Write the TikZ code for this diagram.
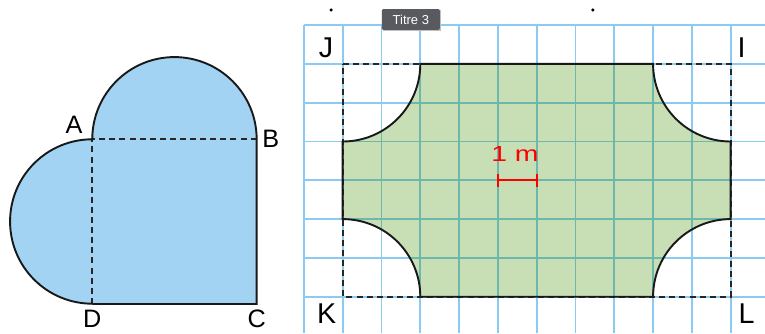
\documentclass[tikz,border=0pt]{standalone}
\usepackage{fontspec}
\setmainfont{Liberation Sans}
\usepackage{xcolor}
\definecolor{heartblue}{RGB}{162,211,242}
\definecolor{gridblue}{RGB}{138,203,243}
\definecolor{lawngreen}{RGB}{200,222,180}
\definecolor{gridteal}{RGB}{108,184,170}
\definecolor{tipgray}{RGB}{88,90,95}
\usetikzlibrary{calc}

\tikzset{
  outline/.style={black!90, line width=1.4pt},
  hidden/.style={black!85, line width=1.3pt, dash pattern=on 4.4pt off 3pt},
  ptlabel/.style={font=\fontsize{18.5}{18.5}\selectfont, inner sep=1pt},
  cornerlabel/.style={font=\fontsize{21}{21}\selectfont}
}

\begin{document}
\begin{tikzpicture}
  \useasboundingbox (-8.832,-0.936) rectangle (10.884,7.647);

  % square ABCD with its two half discs
  \coordinate (A) at (-6.454,4.057);
  \coordinate (B) at (-2.217,4.057);
  \coordinate (C) at (-2.217,-0.188);
  \coordinate (D) at (-6.454,-0.188);
  \fill[heartblue] (D) -- (C) -- (B) arc[start angle=0, end angle=180, radius=2.1185]
    arc[start angle=90, end angle=270, radius=2.1185] -- cycle;
  \draw[hidden] (B) -- (A) -- (D);
  \draw[outline] (D) -- (C) -- (B) arc[start angle=0, end angle=180, radius=2.1185]
    arc[start angle=90, end angle=270, radius=2.1185];

  \node[ptlabel] (labA) at (-6.925,4.425) {A};
  \node[ptlabel] (labB) at (-1.85,4.057) {B};
  \node[ptlabel] (labC) at (-2.217,-0.58) {C};
  \node[ptlabel] (labD) at (-6.454,-0.58) {D};

  % squared paper
  \draw[gridblue, line width=1.25pt] (-1,-0.936) grid (10.884,7);

  % the lawn
  \coordinate (K) at (0,0);
  \coordinate (L) at (10,0);
  \coordinate (I) at (10,6);
  \coordinate (J) at (0,6);
  \fill[lawngreen] (2,6) -- (8,6) arc[start angle=180, end angle=270, radius=2]
    -- (10,2) arc[start angle=90, end angle=180, radius=2]
    -- (2,0) arc[start angle=0, end angle=90, radius=2]
    -- (0,4) arc[start angle=270, end angle=360, radius=2] -- cycle;
  \begin{scope}
    \clip (2,6) -- (8,6) arc[start angle=180, end angle=270, radius=2]
      -- (10,2) arc[start angle=90, end angle=180, radius=2]
      -- (2,0) arc[start angle=0, end angle=90, radius=2]
      -- (0,4) arc[start angle=270, end angle=360, radius=2] -- cycle;
    \draw[gridteal, line width=1.25pt] (-1,-1) grid (11,7);
  \end{scope}
  \draw[hidden] (J) -- (I) -- (L) -- (K) -- cycle;
  \draw[outline] (2,6) -- (8,6) arc[start angle=180, end angle=270, radius=2]
    -- (10,2) arc[start angle=90, end angle=180, radius=2]
    -- (2,0) arc[start angle=0, end angle=90, radius=2]
    -- (0,4) arc[start angle=270, end angle=360, radius=2] -- cycle;

  \node[cornerlabel] (labJ) at (-0.43,6.41) {J};
  \node[cornerlabel] (labI) at (10.28,6.41) {I};
  \node[cornerlabel] (labK) at (-0.41,-0.43) {K};
  \node[cornerlabel] (labL) at (10.41,-0.43) {L};

  % scale bar
  \coordinate (s1) at (4,3);
  \coordinate (s2) at (5,3);
  \draw[red, line width=1.4pt] (s1) -- (s2);
  \draw[red, line width=1.4pt] ($(s1)+(0,0.16)$) -- ($(s1)-(0,0.16)$);
  \draw[red, line width=1.4pt] ($(s2)+(0,0.16)$) -- ($(s2)-(0,0.16)$);
  \node[text=red, xscale=1.3, font=\fontsize{16}{16}\selectfont] (scale) at (4.44,3.67) {1 m};

  % tooltip and marks at the top edge
  \fill[black!25] (1.03,6.85) rectangle (2.53,7.39);
  \node[fill=tipgray, rounded corners=1.5pt, minimum width=1.5cm, minimum height=0.54cm,
    inner sep=0pt, text=white, font=\fontsize{9.5}{9.5}\selectfont] (tip) at (1.757,7.145) {Titre 3};
  \fill[black] (-0.3,7.39) circle (0.045);
  \fill[black] (6.45,7.39) circle (0.045);
\end{tikzpicture}
\end{document}
